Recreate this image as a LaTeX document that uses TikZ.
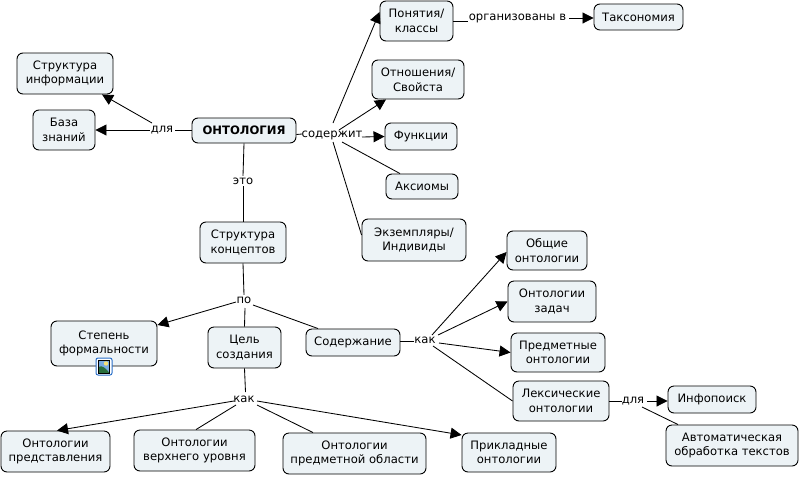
\documentclass[tikz,border=0pt]{standalone}
\usepackage{fontspec}
\setmainfont{DejaVu Sans}
\usetikzlibrary{arrows.meta}
\definecolor{boxfill}{HTML}{EDF3F6}
\definecolor{iconblue}{RGB}{40,110,200}
\definecolor{iconsky}{RGB}{120,170,225}
\definecolor{iconsun}{RGB}{245,225,120}
\definecolor{icongreen}{RGB}{40,110,60}
\tikzset{
  x=1pt,y=-1pt,
  box/.style={draw=black,line width=0.9pt,rounded corners=6pt,fill=boxfill,align=center,inner sep=0pt,
    font=\fontsize{11.6pt}{14.6pt}\selectfont},
  lbl/.style={inner sep=0pt,font=\fontsize{11.6pt}{14.6pt}\selectfont,text height=8pt,text depth=2pt},
  conn/.style={line width=0.85pt,draw=black},
  arr/.style={conn,-{Triangle[length=11pt,width=11pt]}},
}
\newcommand{\bx}[6]{\node[box,minimum width=#4pt,minimum height=#5pt] (#1) at (#2,#3) {#6};}
\begin{document}
\begin{tikzpicture}
\useasboundingbox (0,0) rectangle (800,477);
\bx{ont}{244}{130.5}{104}{25}{\textbf{ОНТОЛОГИЯ}}
\bx{info}{65}{73.5}{96}{41}{Структура\\информации}
\bx{baza}{64}{130}{62}{40}{База\\знаний}
\bx{pon}{416.5}{21}{73}{40}{Понятия/\\классы}
\bx{tax}{638.5}{17}{89}{26}{Таксономия}
\bx{otn}{418}{79.5}{92}{39}{Отношения/\\Свойста}
\bx{fun}{421}{136.5}{72}{27}{Функции}
\bx{aks}{422}{186.5}{72}{25}{Аксиомы}
\bx{ekz}{414}{240}{104}{42}{Экземпляры/\\Индивиды}
\bx{skon}{243}{242.5}{86}{41}{Структура\\концептов}
\bx{ob}{547}{250.5}{80}{39}{Общие\\онтологии}
\bx{zad}{552}{301.5}{88}{41}{Онтологии\\задач}
\bx{pred}{558}{352.5}{94}{39}{Предметные\\онтологии}
\bx{lek}{561}{401}{96}{40}{Лексические\\онтологии}
\bx{inf}{712}{399.5}{88}{27}{Инфопоиск}
\bx{avt}{732}{445.5}{132}{41}{Автоматическая\\обработка текстов}
\bx{sdr}{353}{342.5}{94}{27}{Содержание}
\bx{cel}{244.5}{347.5}{73}{41}{Цель\\создания}
\bx{stp}{104}{343.5}{106}{45}{Степень\\формальности}
\bx{opr}{55.5}{451.5}{109}{41}{Онтологии\\представления}
\bx{verh}{194.5}{450.5}{121}{41}{Онтологии\\верхнего уровня}
\bx{pobl}{354.5}{453.5}{143}{41}{Онтологии\\предметной области}
\bx{prik}{509}{452.5}{94}{39}{Прикладные\\онтологии}

\node[lbl] (dl1) at (162,129) {для};
\node[lbl] (sj) at (332,134) {содержит};
\node[lbl] (eto) at (243,181) {это};
\node[lbl] (po) at (244,300) {по};
\node[lbl] (kk1) at (244,399) {как};
\node[lbl] (kk2) at (425,340) {как};
\node[lbl] (org) at (517.5,17) {организованы в};
\node[lbl] (dl2) at (633,400) {для};

% upper left
\draw[conn] (ont.west) -- ([shift={(13,1.5)}]dl1.center);
\draw[arr] ([shift={(-12,1)}]dl1.center) -- (baza.east);
\draw[arr] ([shift={(-10,-6)}]dl1.center) -- ([xshift=37pt]info.south);
% contains
\draw[conn] ([yshift=-4pt]ont.east) -- ([shift={(-30,0)}]sj.center);
\draw[arr] ([shift={(1,-11)}]sj.center) -- ([yshift=9pt]pon.west);
\draw[arr] ([shift={(7,-4)}]sj.center) -- ([xshift=-32pt]otn.south);
\draw[arr] ([shift={(30,3)}]sj.center) -- (fun.west);
\draw[conn] ([shift={(10,8)}]sj.center) -- ([xshift=-22pt]aks.north);
\draw[conn] ([shift={(1,8)}]sj.center) -- ([yshift=5pt]ekz.west);
% is
\draw[conn] (ont.south) -- (eto.north);
\draw[conn] (eto.south) -- (skon.north);
\draw[conn] (skon.south) -- (po.north);
\draw[arr] ([shift={(-8,2)}]po.center) -- ([yshift=18.5pt]stp.east);
\draw[conn] ([shift={(1,8)}]po.center) -- (cel.north);
\draw[conn] ([shift={(9,5)}]po.center) -- ([xshift=-35pt]sdr.north);
\draw[conn] (cel.south) -- ([shift={(1.5,-7)}]kk1.center);
\draw[arr] ([shift={(-10,2)}]kk1.center) -- ([xshift=1.5pt]opr.north);
\draw[conn] ([shift={(-8,6)}]kk1.center) -- ([xshift=1.5pt]verh.north);
\draw[conn] ([shift={(13,6)}]kk1.center) -- ([xshift=-41.5pt]pobl.north);
\draw[arr] ([shift={(13,2)}]kk1.center) -- ([yshift=17.5pt]prik.west);
% content
\draw[conn] ([yshift=1.5pt]sdr.east) -- ([shift={(-11,1)}]kk2.center);
\draw[arr] ([shift={(7,-5)}]kk2.center) -- ([yshift=-1.5pt]ob.west);
\draw[arr] ([shift={(13,-5)}]kk2.center) -- (zad.west);
\draw[arr] ([shift={(14,3)}]kk2.center) -- (pred.west);
\draw[conn] ([shift={(8,6)}]kk2.center) -- (lek.west);
% lexical
\draw[conn] (lek.east) -- ([shift={(-11,1)}]dl2.center);
\draw[arr] ([shift={(14,1)}]dl2.center) -- ([yshift=-1.5pt]inf.west);
\draw[conn] ([shift={(9,7)}]dl2.center) -- ([xshift=-54pt]avt.north);
% classes
\draw[conn] (pon.east) -- ([shift={(-50,4)}]org.center);
\draw[arr] ([shift={(51.5,1)}]org.center) -- ([yshift=-1pt]tax.west);

% picture icon
\begin{scope}[shift={(104,366.5)}]
  \fill[white,draw=iconblue,line width=1pt,rounded corners=2pt] (-8,-8.5) rectangle (8,8.5);
  \fill[iconsky] (-5.5,-6.5) rectangle (5.5,6.5);
  \fill[iconsun] (2,-3) circle (2.2);
  \fill[icongreen] (-5.5,6.5) -- (-5.5,0.5) .. controls (-2,-2) and (2,2) .. (5.5,6.5) -- cycle;
  \draw[black,line width=0.6pt] (-5.5,-6.5) rectangle (5.5,6.5);
\end{scope}
\end{tikzpicture}
\end{document}
